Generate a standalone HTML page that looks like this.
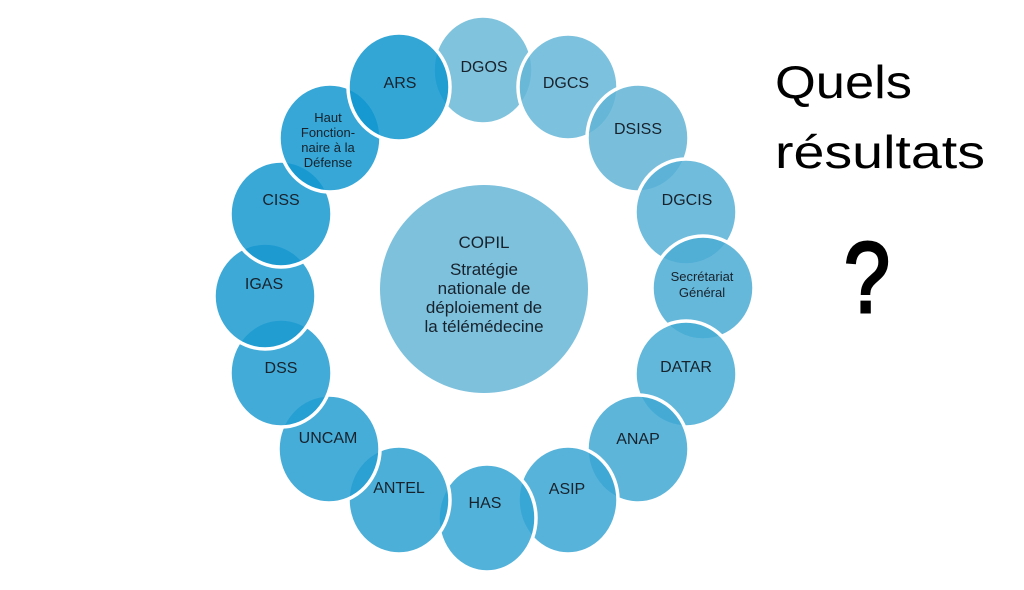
<!DOCTYPE html>
<html><head><meta charset="utf-8"><style>
html,body{margin:0;padding:0;background:#fff;}
svg{display:block;}
.n{font-family:"Liberation Sans",sans-serif;font-size:16px;fill:#17222c;text-anchor:middle;}
.s{font-size:13px;}
.c{font-size:17px;}
.q{font-family:"Liberation Sans",sans-serif;fill:#000;}
</style></head><body>
<svg width="1024" height="590" viewBox="0 0 1024 590" xmlns="http://www.w3.org/2000/svg">
<g stroke="#fff" stroke-width="3.5" fill-opacity="0.85">
<ellipse cx="483" cy="70" rx="50" ry="54" fill="#6ab8d7"/>
<ellipse cx="568" cy="87" rx="50" ry="53" fill="#65b6d7"/>
<ellipse cx="638" cy="138" rx="51" ry="54" fill="#61b4d6"/>
<ellipse cx="686" cy="212" rx="51" ry="53" fill="#57b0d6"/>
<ellipse cx="703" cy="288" rx="51" ry="52" fill="#4bacd4"/>
<ellipse cx="686" cy="374" rx="51" ry="53" fill="#47abd4"/>
<ellipse cx="638" cy="449" rx="51" ry="54" fill="#41a8d3"/>
<ellipse cx="568" cy="500" rx="50" ry="54" fill="#3ba6d3"/>
<ellipse cx="487" cy="518" rx="49" ry="54" fill="#34a4d3"/>
<ellipse cx="399" cy="500" rx="51" ry="54" fill="#2da1d1"/>
<ellipse cx="329" cy="449" rx="51" ry="54" fill="#269ed1"/>
<ellipse cx="281" cy="373" rx="51" ry="54" fill="#219cd1"/>
<ellipse cx="265" cy="296" rx="51" ry="53" fill="#1b9ad0"/>
<ellipse cx="281" cy="214" rx="51" ry="53" fill="#1899d0"/>
<ellipse cx="330" cy="138" rx="51" ry="54" fill="#1398d0"/>
<ellipse cx="399" cy="87" rx="51" ry="54" fill="#0f97cf"/>
</g>
<ellipse cx="484" cy="289" rx="104" ry="104" fill="#7dc1dd"/>

<text class="n" x="484" y="72">DGOS</text>
<text class="n" x="566" y="88">DGCS</text>
<text class="n" x="638" y="134">DSISS</text>
<text class="n" x="687" y="205">DGCIS</text>
<text class="n s" x="702" y="281">Secrétariat</text>
<text class="n s" x="702" y="297">Général</text>
<text class="n" x="686" y="372">DATAR</text>
<text class="n" x="638" y="444">ANAP</text>
<text class="n" x="567" y="494">ASIP</text>
<text class="n" x="485" y="508">HAS</text>
<text class="n" x="399" y="493">ANTEL</text>
<text class="n" x="328" y="443">UNCAM</text>
<text class="n" x="281" y="373">DSS</text>
<text class="n" x="264" y="289">IGAS</text>
<text class="n" x="281" y="205">CISS</text>
<text class="n s" x="328" y="122">Haut</text>
<text class="n s" x="328" y="137">Fonction-</text>
<text class="n s" x="328" y="152">naire à la</text>
<text class="n s" x="328" y="167">Défense</text>
<text class="n" x="400" y="88">ARS</text>

<text class="n c" x="484" y="248">COPIL</text>
<text class="n c" x="484" y="275">Stratégie</text>
<text class="n c" x="484" y="294">nationale de</text>
<text class="n c" x="484" y="313">déploiement de</text>
<text class="n c" x="484" y="332">la télémédecine</text>

<text class="q" x="775" y="98" font-size="46" textLength="137" lengthAdjust="spacingAndGlyphs">Quels</text>
<text class="q" x="775" y="168" font-size="46" textLength="210" lengthAdjust="spacingAndGlyphs">résultats</text>
<text class="q" x="844" y="312" font-size="100" stroke="#000" stroke-width="3" textLength="46" lengthAdjust="spacingAndGlyphs">?</text>
</svg>
</body></html>
